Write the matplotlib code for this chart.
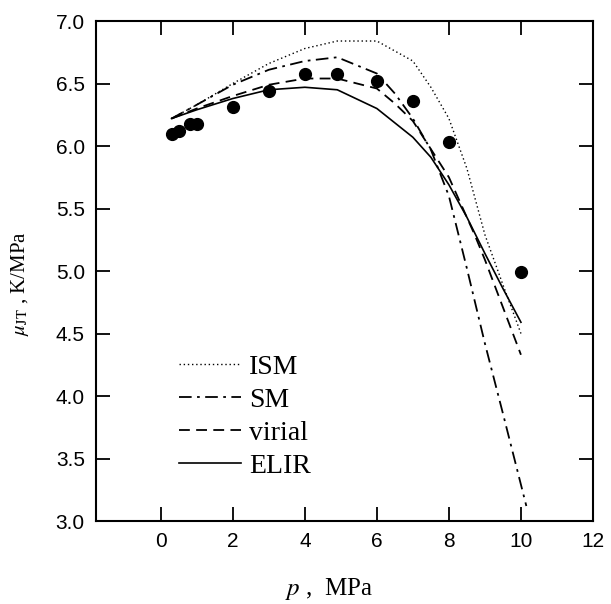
import matplotlib
matplotlib.use('Agg')
import matplotlib.pyplot as plt
import numpy as np

plt.rcParams['mathtext.fontset'] = 'stix'

# experimental points
p_exp = [0.3, 0.5, 0.8, 1.0, 2.0, 3.0, 4.0, 4.9, 6.0, 7.0, 8.0, 10.0]
mu_exp = [6.10, 6.12, 6.18, 6.18, 6.31, 6.44, 6.58, 6.58, 6.52, 6.36, 6.03, 4.99]

# model curves
p_ism = [0.3, 1.0, 2.0, 3.0, 4.0, 4.9, 6.0, 7.0, 7.5, 8.0, 8.5, 9.0, 9.5, 10.0]
mu_ism = [6.22, 6.33, 6.50, 6.66, 6.78, 6.84, 6.84, 6.68, 6.47, 6.22, 5.82, 5.29, 4.89, 4.50]

p_sm = [0.3, 1.0, 2.0, 3.0, 4.0, 4.9, 6.0, 6.5, 7.0, 7.5, 8.0, 8.5, 9.0, 9.5, 10.15]
mu_sm = [6.22, 6.33, 6.49, 6.61, 6.68, 6.71, 6.58, 6.42, 6.22, 5.97, 5.60, 5.02, 4.42, 3.86, 3.12]

p_vir = [0.3, 1.0, 2.0, 3.0, 4.0, 4.9, 6.0, 6.5, 7.0, 8.0, 8.7, 9.0, 10.0]
mu_vir = [6.22, 6.30, 6.40, 6.49, 6.54, 6.54, 6.46, 6.34, 6.20, 5.75, 5.30, 5.09, 4.33]

p_elir = [0.3, 1.0, 2.0, 3.0, 4.0, 4.9, 6.0, 7.0, 7.5, 8.0, 8.5, 9.0, 9.5, 10.0]
mu_elir = [6.22, 6.29, 6.38, 6.45, 6.47, 6.45, 6.30, 6.07, 5.91, 5.69, 5.43, 5.14, 4.86, 4.59]

fig = plt.figure(figsize=(6.11, 6.04), dpi=100)
ax = fig.add_axes([0.157, 0.1374, 0.8135, 0.8278])

ax.plot(p_ism, mu_ism, color='black', lw=1.0, ls=(0, (1, 2)), label='ISM')
ax.plot(p_sm, mu_sm, color='black', lw=1.3, ls=(0, (7, 3, 1.5, 3)), label='SM')
ax.plot(p_vir, mu_vir, color='black', lw=1.3, ls=(0, (6, 3.5)), label='virial')
ax.plot(p_elir, mu_elir, color='black', lw=1.2, ls='-', label='ELIR')
ax.plot(p_exp, mu_exp, 'o', color='black', ms=8.5, ls='none')

ax.set_xlim(-1.8, 12)
ax.set_ylim(3.0, 7.0)
ax.set_xticks(np.arange(0, 13, 2))
ax.set_yticks(np.arange(3.0, 7.01, 0.5))
ax.set_xticklabels(['0', '2', '4', '6', '8', '10', '12'])
ax.set_yticklabels(['%.1f' % v for v in np.arange(3.0, 7.01, 0.5)])

ax.tick_params(direction='in', length=10, width=1.3, top=True, right=True,
               labelsize=15, pad=8)
for lab in ax.get_xticklabels() + ax.get_yticklabels():
    lab.set_family('Liberation Sans')
for s in ax.spines.values():
    s.set_linewidth(1.5)

ax.set_xlabel(r'$p$ ,  MPa', fontsize=18, family='Liberation Serif')
ax.xaxis.set_label_coords(0.47, -0.11)
ax.set_ylabel(r'$\mu_{\rm JT}$ , K/MPa', fontsize=15, family='Liberation Serif')
ax.yaxis.set_label_coords(-0.13, 0.475)

leg = ax.legend(loc='lower left', bbox_to_anchor=(0.14, 0.057), frameon=False,
                prop={'family': 'Liberation Serif', 'size': 20},
                handlelength=2.2, handletextpad=0.3, labelspacing=0.27, borderpad=0)

fig.savefig('out.png', dpi=100)
